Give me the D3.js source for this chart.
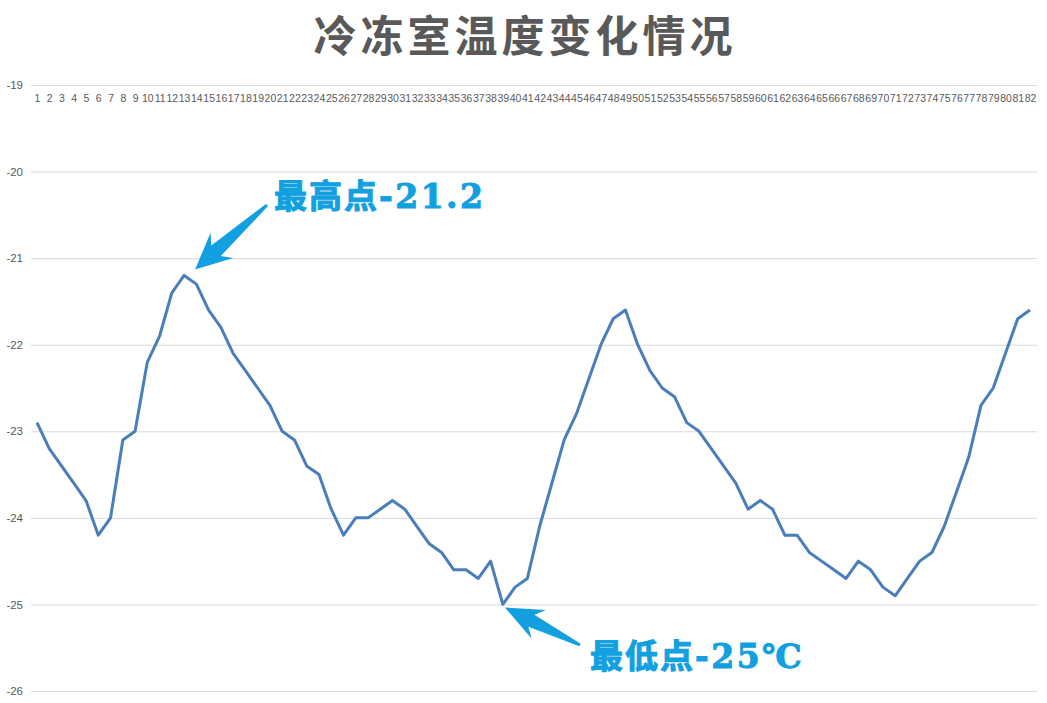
<!DOCTYPE html>
<html>
<head>
<meta charset="utf-8">
<script src="https://cdn.jsdelivr.net/npm/d3@7"></script>
<style>
body{margin:0;background:#fff;}
</style>
</head>
<body>
<div id="chart"></div>
<script>
// days 1..82
var days = d3.range(1, 83).map(String);

var temps = [
-22.9,-23.2,-23.4,-23.6,-23.8,-24.2,-24.0,-23.1,-23.0,-22.2,
-21.9,-21.4,-21.2,-21.3,-21.6,-21.8,-22.1,-22.3,-22.5,-22.7,
-23.0,-23.1,-23.4,-23.5,-23.9,-24.2,-24.0,-24.0,-23.9,-23.8,
-23.9,-24.1,-24.3,-24.4,-24.6,-24.6,-24.7,-24.5,-25.0,-24.8,
-24.7,-24.1,-23.6,-23.1,-22.8,-22.4,-22.0,-21.7,-21.6,-22.0,
-22.3,-22.5,-22.6,-22.9,-23.0,-23.2,-23.4,-23.6,-23.9,-23.8,
-23.9,-24.2,-24.2,-24.4,-24.5,-24.6,-24.7,-24.5,-24.6,-24.8,
-24.9,-24.7,-24.5,-24.4,-24.1,-23.7,-23.3,-22.7,-22.5,-22.1,
-21.7,-21.6];

var yTicks = [-26,-25,-24,-23,-22,-21,-20,-19];

var title = "冷冻室温度变化情况";
var hiText = ["最高点", "-21.2"];
var loText = ["最低点", "-25℃"];

var W = 1047, H = 703;
var svg = d3.select("#chart").append("svg")
.attr("width", W).attr("height", H);

var x = d3.scalePoint()
.domain(days)
.range([37, 1030]);

var y = d3.scaleLinear()
.domain([-26, -19])
.range([691, 85]);

// title
svg.append("text").text(title)
.attr("x", 525).attr("y", 52)
.attr("text-anchor", "middle")
.attr("font-family", "'Noto Sans CJK SC', sans-serif")
.attr("font-weight", "bold")
.attr("font-size", 43)
.attr("letter-spacing", 4)
.attr("fill", "#595959");

// y axis + grid
var yAxis = svg.append("g")
.attr("transform", "translate(31,0)")
.call(d3.axisLeft(y).tickValues(yTicks).tickSize(-1006).tickPadding(8).tickFormat(function(d){ return String(d); }));
yAxis.select(".domain").remove();
yAxis.selectAll(".tick line").attr("stroke", "#d9d9d9");
yAxis.selectAll(".tick text")
.attr("fill", "#595959")
.attr("font-size", 11.5)
.attr("font-family", "'Liberation Sans', Arial, sans-serif");

// category axis along the top
var xAxis = svg.append("g")
.attr("transform", "translate(0,85)")
.call(d3.axisBottom(x).tickSize(0).tickPadding(10));
xAxis.select(".domain").remove();
xAxis.selectAll(".tick text")
.attr("fill", "#595959")
.attr("font-size", 10.5)
.attr("font-family", "'Liberation Sans Narrow', 'Liberation Sans', Arial, sans-serif");

// the line
var line = d3.line()
.x(function(d, i){ return x(days[i]); })
.y(function(d){ return y(d); });

svg.append("path")
.datum(temps)
.attr("d", line)
.attr("fill", "none")
.attr("stroke", "#4a7ebb")
.attr("stroke-width", 3)
.attr("stroke-linejoin", "round");

// block arrow from tail to tip
function arrow(tx, ty, px, py, headLen, headW){
  var dx = px - tx, dy = py - ty;
  var L = Math.sqrt(dx*dx + dy*dy);
  var ux = dx / L, uy = dy / L;
  var nx = -uy, ny = ux;
  function pt(a, b){ return [px - ux*a + nx*b, py - uy*a + ny*b]; }
  var pts = [
    pt(0, 0),
    pt(headLen, headW),
    pt(headLen*0.78, headW*0.42),
    pt(L, 1.5),
    pt(L, -1.5),
    pt(headLen*0.78, -headW*0.42),
    pt(headLen, -headW)
  ];
  svg.append("polygon")
  .attr("points", pts.map(function(p){ return p.join(","); }).join(" "))
  .attr("fill", "#12a0e0");
}

var hiI = temps.indexOf(d3.max(temps));
var loI = temps.indexOf(d3.min(temps));

arrow(267, 205, x(days[hiI]) + 11, y(temps[hiI]) - 6, 36, 17);
arrow(580, 645, x(days[loI]) + 2, y(temps[loI]) + 3, 38, 16);

function label(parts, lx, ly){
  var t = svg.append("text")
  .attr("x", lx).attr("y", ly)
  .attr("font-size", 33)
  .attr("font-weight", "bold")
  .attr("fill", "#12a0e0")
  .attr("stroke", "#12a0e0")
  .attr("stroke-width", 1);
  t.append("tspan").text(parts[0])
  .attr("font-family", "'Noto Sans CJK SC', sans-serif")
  .attr("letter-spacing", 2);
  t.append("tspan").text(parts[1])
  .attr("font-family", "'DejaVu Serif', serif")
  .attr("letter-spacing", 2.5);
}
label(hiText, 274, 208);
label(loText, 590, 668);
</script>
</body>
</html>
